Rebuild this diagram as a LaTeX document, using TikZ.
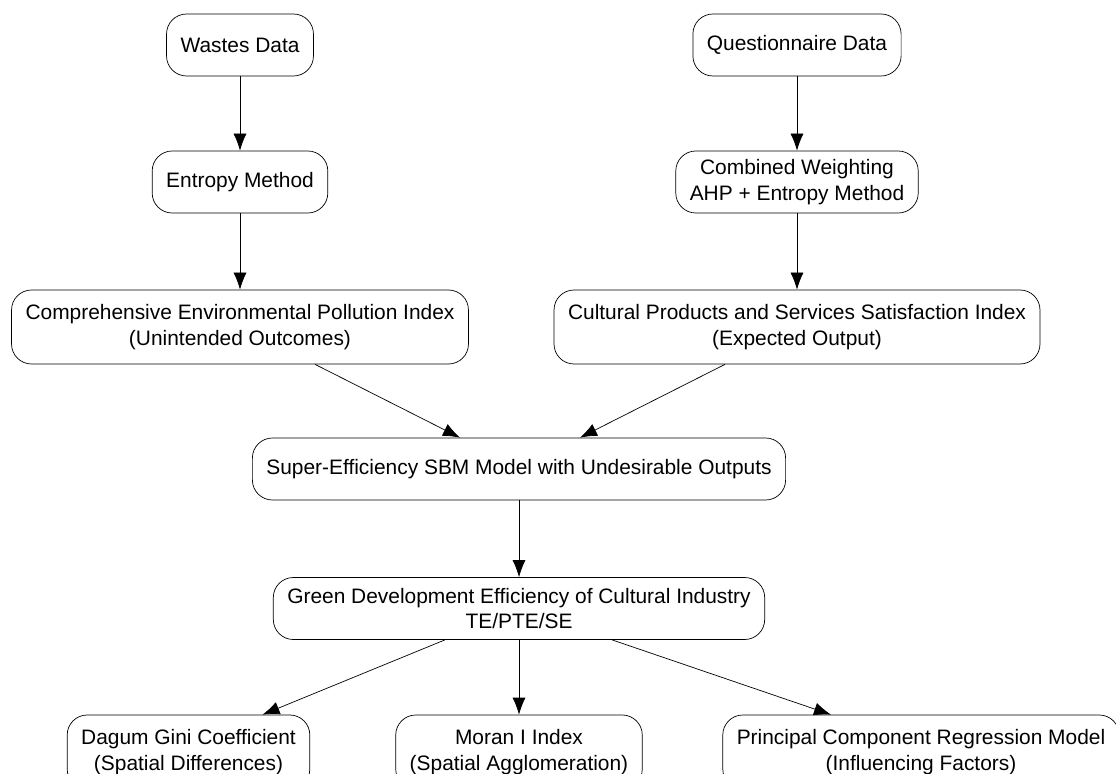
\documentclass[tikz,border=0pt]{standalone}
\usepackage{fontspec}
\setmainfont{Liberation Sans}
\usetikzlibrary{positioning}
\usetikzlibrary{arrows.meta,calc}
\tikzset{
  ->,>={Latex[length=0.34cm,width=0.26cm]},
  line width=0.9pt,
  box/.style={rectangle, rounded corners=0.4cm, draw, align=center,
   inner xsep=0.28cm, minimum height=1.24cm,
   font=\fontsize{11.9}{14.5}\selectfont},
  tallbox/.style={box, minimum height=1.48cm},
}
\begin{document}
\begin{tikzpicture}
\useasboundingbox (0,0) rectangle (22.32,-15.48);
% inputs
\node at(4.8,-0.9) (waste) [box] {Wastes Data};
\node at(15.94,-0.9) (quest) [box] {Questionnaire Data};
\node at(4.8,-3.64) (entropy) [box] {Entropy Method};
\node at(15.94,-3.64) (weight) [box] {Combined Weighting\\AHP + Entropy Method};
\node at(4.8,-6.54) (pollution) [tallbox] {Comprehensive Environmental Pollution Index\\(Unintended Outcomes)};
\node at(15.94,-6.54) (satisf) [tallbox] {Cultural Products and Services Satisfaction Index\\(Expected Output)};
% model
\node at(10.38,-9.38) (sbm) [box] {Super-Efficiency SBM Model with Undesirable Outputs};
\node at(10.38,-12.17) (green) [box] {Green Development Efficiency of Cultural Industry\\TE/PTE/SE};
% analyses
\node at(3.77,-15.04) (gini) [tallbox] {Dagum Gini Coefficient\\(Spatial Differences)};
\node at(10.38,-15.04) (moran) [tallbox] {Moran I Index\\(Spatial Agglomeration)};
\node at(18.42,-15.04) (pcr) [tallbox] {Principal Component Regression Model\\(Influencing Factors)};
\draw (waste) -- (entropy);
\draw (entropy) -- (pollution);
\draw (quest) -- (weight);
\draw (weight) -- (satisf);
\draw ($(pollution.south)+(1.5,0)$) -- ($(sbm.north)+(-1.18,0)$);
\draw ($(satisf.south)+(-1.44,0)$) -- ($(sbm.north)+(1.22,0)$);
\draw (sbm) -- (green);
\draw ($(green.south)+(-1.48,0)$) -- ($(gini.north)+(1.48,0)$);
\draw (green) -- (moran);
\draw ($(green.south)+(1.86,0)$) -- ($(pcr.north)+(-1.8,0)$);
\end{tikzpicture}
\end{document}
